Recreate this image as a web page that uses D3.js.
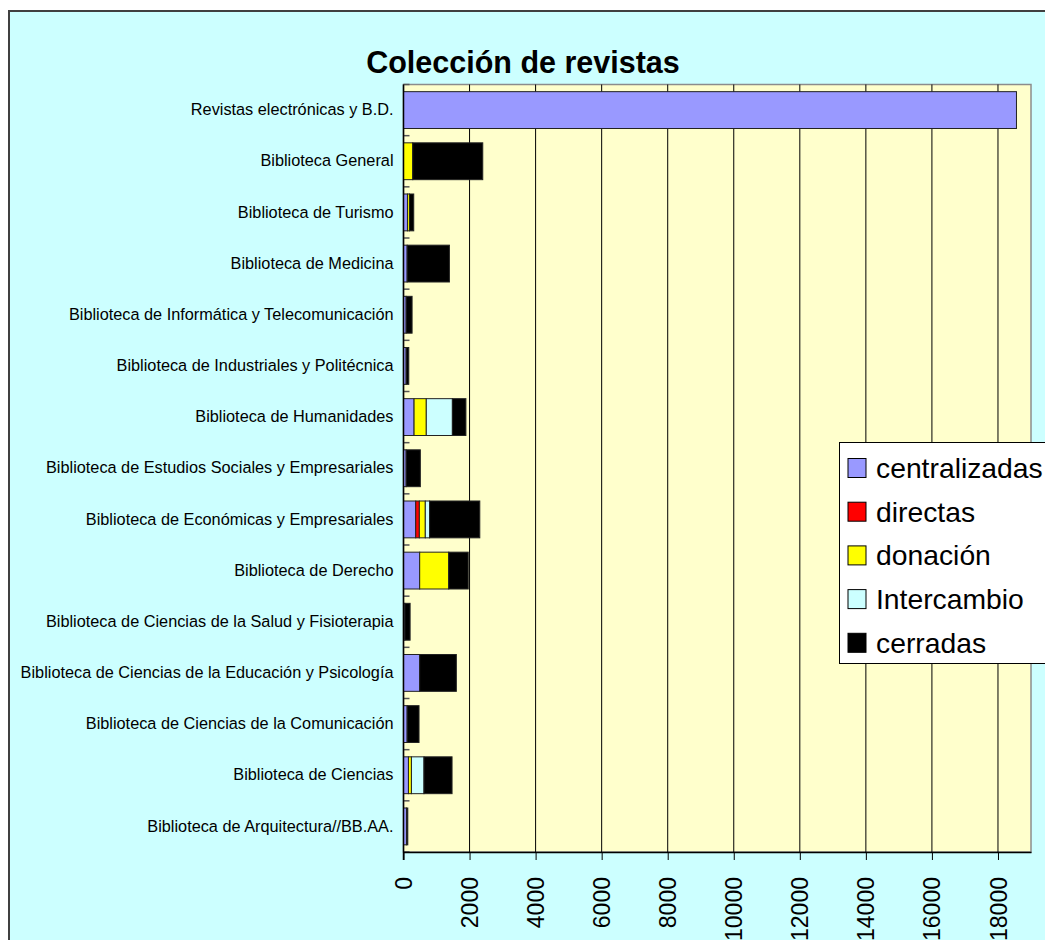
<!DOCTYPE html>
<html>
<head>
<meta charset="utf-8">
<script src="https://cdn.jsdelivr.net/npm/d3@7/dist/d3.min.js"></script>
<style>
body{margin:0;background:#fff;}
svg{display:block;font-family:"Liberation Sans",Arial,sans-serif;}
</style>
</head>
<body>
<svg width="1045" height="940"></svg>
<script>
var categorias=["Revistas electrónicas y B.D.","Biblioteca General","Biblioteca de Turismo","Biblioteca de Medicina",
  "Biblioteca de Informática y Telecomunicación","Biblioteca de Industriales y Politécnica","Biblioteca de Humanidades",
  "Biblioteca de Estudios Sociales y Empresariales","Biblioteca de Económicas y Empresariales","Biblioteca de Derecho",
  "Biblioteca de Ciencias de la Salud y Fisioterapia","Biblioteca de Ciencias de la Educación y Psicología",
  "Biblioteca de Ciencias de la Comunicación","Biblioteca de Ciencias","Biblioteca de Arquitectura//BB.AA."];
var centralizadas=[18560,0,120,110,80,80,320,80,370,490,40,490,110,150,90];
var directas=[0,0,0,0,0,0,0,0,110,0,0,0,0,0,0];
var donacion=[0,280,60,0,0,0,370,0,180,880,0,0,0,90,0];
var intercambio=[0,0,0,0,0,0,790,0,130,0,0,0,0,380,0];
var cerradas=[0,2120,130,1280,180,80,410,430,1520,590,160,1110,360,850,40];
var series=["centralizadas","directas","donación","Intercambio","cerradas"];
var colores=["#9999FF","#FF0000","#FFFF00","#CCFFFF","#000000"];
var xTicks=[0,2000,4000,6000,8000,10000,12000,14000,16000,18000];

var tabla=categorias.map(function(c,i){
  return {cat:c,"centralizadas":centralizadas[i],"directas":directas[i],"donación":donacion[i],
    "Intercambio":intercambio[i],"cerradas":cerradas[i]};
});

var plot={left:403.5,right:1031,top:84.5,bottom:852};
var xScale=d3.scaleLinear().domain([0,19000]).range([plot.left,plot.right]);
var yScale=d3.scaleBand().domain(categorias).range([plot.top,plot.bottom])
             .paddingInner(0.28).paddingOuter(0.14);
var color=d3.scaleOrdinal().domain(series).range(colores);

var svg=d3.select("svg");

// marco del grafico
svg.append("rect")
   .attr("x",9).attr("y",11).attr("width",1100).attr("height",1000)
   .attr("fill","#CCFFFF").attr("stroke","#404040").attr("stroke-width",2);

svg.append("text")
   .attr("x",523).attr("y",73)
   .attr("text-anchor","middle")
   .attr("font-size",30.5).attr("font-weight","bold")
   .text("Colección de revistas");

// area de trazado
svg.append("rect")
   .attr("x",plot.left).attr("y",plot.top)
   .attr("width",plot.right-plot.left).attr("height",plot.bottom-plot.top)
   .attr("fill","#FFFFCC").attr("stroke","#8c8c8c").attr("stroke-width",1.5);

svg.append("g").selectAll("line")
   .data(xTicks.slice(1))
   .enter().append("line")
   .attr("x1",function(d){return xScale(d);})
   .attr("x2",function(d){return xScale(d);})
   .attr("y1",plot.top).attr("y2",plot.bottom)
   .attr("stroke","#000").attr("stroke-width",1);

var stack=d3.stack().keys(series)(tabla);

svg.append("g").selectAll("g")
   .data(stack)
   .enter().append("g")
   .attr("fill",function(d){return color(d.key);})
   .selectAll("rect")
   .data(function(d){return d.filter(function(v){return v[1]-v[0]>0;});})
   .enter().append("rect")
   .attr("x",function(d){return xScale(d[0]);})
   .attr("y",function(d){return yScale(d.data.cat);})
   .attr("width",function(d){return xScale(d[1])-xScale(d[0]);})
   .attr("height",yScale.bandwidth())
   .attr("stroke","#222").attr("stroke-width",1);

// eje de categorias
var yAxis=d3.axisLeft(yScale).tickSize(0).tickPadding(10);
var gy=svg.append("g")
   .attr("transform","translate("+plot.left+",0)")
   .call(yAxis);
gy.select(".domain").remove();
gy.selectAll("text").attr("font-size",16.3).attr("fill","#000")
   .attr("font-family","'Liberation Sans',Arial,sans-serif");

svg.append("g").selectAll("line")
   .data(d3.range(16))
   .enter().append("line")
   .attr("x1",plot.left).attr("x2",plot.left+6)
   .attr("y1",function(i){return plot.top+i*yScale.step();})
   .attr("y2",function(i){return plot.top+i*yScale.step();})
   .attr("stroke","#555").attr("stroke-width",1.5);

svg.append("line")
   .attr("x1",plot.left).attr("x2",plot.left)
   .attr("y1",plot.top).attr("y2",plot.bottom+8)
   .attr("stroke","#000").attr("stroke-width",1.5);

// eje de valores
var xAxis=d3.axisBottom(xScale).tickValues(xTicks).tickSize(8).tickSizeOuter(0)
            .tickFormat(d3.format("d"));
var gx=svg.append("g")
   .attr("transform","translate(0,"+plot.bottom+")")
   .call(xAxis);
gx.select(".domain").attr("stroke","#000").attr("stroke-width",1.5);
gx.selectAll(".tick line").attr("stroke","#000");
gx.selectAll("text")
   .attr("font-size",23).attr("fill","#000")
   .attr("font-family","'Liberation Sans',Arial,sans-serif")
   .attr("text-anchor","end")
   .attr("dy","0.35em")
   .attr("transform","translate(0,25) rotate(-90)")
   .attr("x",0).attr("y",0);

// leyenda
var lg=svg.append("g");
lg.append("rect")
  .attr("x",839.5).attr("y",442.5).attr("width",300).attr("height",221)
  .attr("fill","#fff").attr("stroke","#000").attr("stroke-width",1);
var item=lg.selectAll("g.item")
  .data(series)
  .enter().append("g")
  .attr("class","item")
  .attr("transform",function(d,i){return "translate(848,"+(468+i*43.7)+")";});
item.append("rect")
  .attr("x",0).attr("y",-9.5).attr("width",18).attr("height",19)
  .attr("fill",function(d){return color(d);})
  .attr("stroke","#000").attr("stroke-width",1);
item.append("text")
  .attr("x",28).attr("y",0).attr("dy","0.35em")
  .attr("font-size",28.3)
  .text(function(d){return d;});
</script>
</body>
</html>
